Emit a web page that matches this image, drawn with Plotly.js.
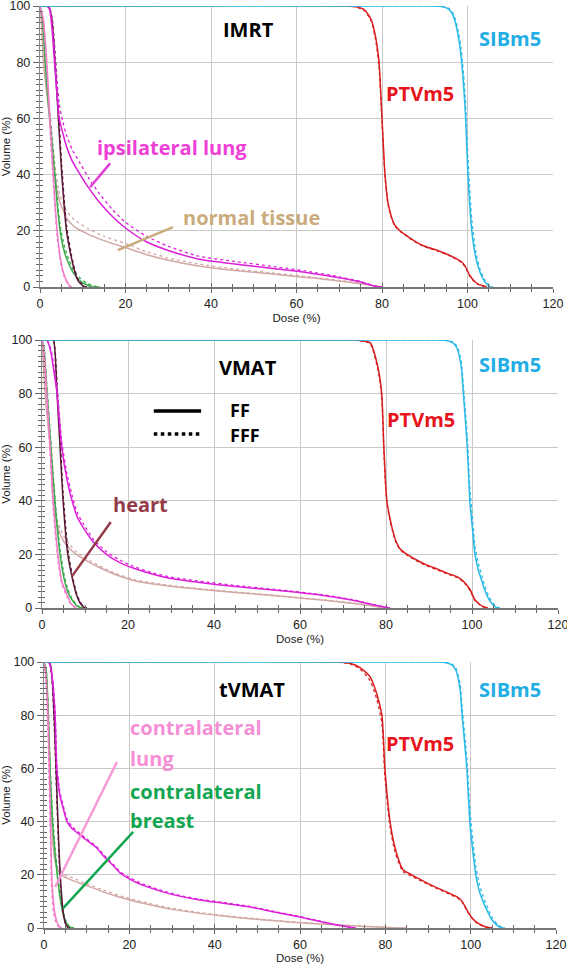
<!DOCTYPE html>
<html><head><meta charset="utf-8">
<script src="https://cdn.plot.ly/plotly-3.0.1.min.js"></script>
<style>html,body{margin:0;padding:0;background:#fff}#chart{width:567px;height:964px}</style>
</head><body><div id="chart"></div>
<script>
// ---------- DATA (Dose %, Volume %) ----------
// Panel 1: IMRT
const imrt_sib_dose = [0,92,94,95.5,96.5,97.5,98.5,99.5,100.1,101,102,103,104,105.3,106];
const imrt_sib_ff   = [100,100,99.8,99,97,92,82,62,40,20,10,5,2,0,0];
const imrt_sib_fff  = [100,100,99.9,99.3,97.8,93.5,85,67,46,24,12,6,2.6,0.4,0];
const imrt_ptv_dose = [0,72,74,76,77.5,78.5,79.3,80,80.7,81.4,82.2,83,84.2,86,88,90,93,95.5,97.5,98.6,99.4,100.6,101.5,102.5,104.5];
const imrt_ptv_ff   = [100,100,99.7,98.5,95,89,80,60,40,30,25,22,20,18,16,14.5,13,11.5,10,9,7.5,4,2.2,1,0];
const imrt_ptv_fff  = [100,100,99.6,98.2,94.5,88,78.5,59,39.5,29.5,24.6,21.7,19.8,17.8,15.8,14.3,12.8,11.3,9.8,8.7,7.2,3.7,2,0.9,0];
const imrt_lung_dose = [0,1.5,2.2,2.8,3.3,4,4.5,5.3,6.2,7.5,9.4,11.5,14,17,20,25,30,37,45,55,63,70,75,78,80];
const imrt_lung_ff   = [100,100,99,92,82,68,60,55,50,45,40,35,30,25,21,16,13,10,8.3,6.5,5,3.3,1.8,0.4,0];
const imrt_lung_fff  = [100,100,99.5,95,86,73,65,59,54,49,44,38.5,33,27.5,23,18,14.5,11,9.2,7.2,5.5,3.6,2,0.5,0];
const imrt_nt_dose = [0,0.3,0.8,1.5,2.3,3,3.5,4.2,4.7,5.5,6.2,8,11,15,20,25,30,37,45,55,65,72,78,80];
const imrt_nt_ff   = [100,95,80,70,60,48,40,33,30,27,24.5,21.5,19,16.5,14,11.5,9.5,7.5,6,4.5,3,1.8,0.5,0];
const imrt_nt_fff  = [100,96,83,73,63,51,43,36,32.5,29.5,27,24,21,18,15.5,12.5,10.3,8.2,6.5,4.9,3.3,2,0.6,0];
const imrt_heart_dose = [0,2,2.8,3.5,4.3,5.1,6.2,7.4,8.2,9,10,10.5,11];
const imrt_heart_ff   = [100,100,95,80,60,40,20,10,5,2,0.5,0,0];
const imrt_heart_fff  = [100,100,96,84,64,43,22,11,5.8,2.5,0.7,0.1,0];
const imrt_clung_dose = [0,0.8,1.6,2.3,3.1,4,4.8,5.5,6.3,7,7.5];
const imrt_clung_ff   = [100,95,80,60,40,20,10,5,2,0.3,0];
const imrt_clung_fff  = [100,94,78,57,37,18,9,4.3,1.5,0.2,0];
const imrt_breast_dose = [0,0.6,1.2,2,3,4,4.7,5.8,6.8,7.8,9.5,11,12.5,14];
const imrt_breast_ff   = [100,95,80,64,48,30,20,12,8,5,2,0.7,0,0];
const imrt_breast_fff  = [100,96,82,66,50,32,22,14,9.5,6,3,1.3,0.4,0];

// Panel 2: VMAT
const vmat_sib_dose = [0,92,94,95.5,96.5,97.5,98,98.9,99.5,100.2,100.7,101.5,102.3,103,104,105,106,106.5];
const vmat_sib_ff   = [100,100,99.8,99,97,90,80,60,40,28,20,14,10,6.5,3,1,0,0];
const vmat_sib_fff  = [100,100,99.9,99.3,97.8,92,83,64,45,32,23,16.5,12,8,4,1.5,0.3,0];
const vmat_ptv_dose = [0,72,74,76.3,78.1,79,79.5,80.2,81.4,82.3,83.3,84.9,87,89.5,92,94.2,96.5,98,99.5,100.7,101.7,102.6,103.7];
const vmat_ptv_ff   = [100,100,99.8,99,90,80,60,40,30,25,22,20,18,16,14.5,13,11.7,10,7,3,1.5,0.5,0];
const vmat_ptv_fff  = [100,100,99.7,98.7,89,79,59,39,29.5,24.5,21.7,19.7,17.7,15.7,14.2,12.7,11.4,9.7,6.7,2.8,1.3,0.4,0];
const vmat_lung_dose = [0,1.1,2,2.8,3.5,4.6,5.8,7,8.2,9.6,12,15,18,21,26,30,36.7,45,55,65,72,77,80,81];
const vmat_lung_ff   = [100,100,96,88,80,60,48,40,34,30,24.5,20,17,15,12.5,11,9.5,8,6.5,4.8,3,1.2,0.2,0];
const vmat_lung_fff  = [100,100,97,90,82,62,50,42,35.5,31.5,25.5,21,18,15.7,13,11.5,10,8.4,6.8,5,3.2,1.3,0.3,0];
const vmat_nt_dose = [0,0.3,0.7,1.3,1.9,2.6,3.7,5,6.5,8,10.5,13.5,17,22,28,36.7,45,55,65,72,78,80];
const vmat_nt_ff   = [100,92,80,70,60,40,30,25,22,20,17.5,15,12.5,10,8.5,7,5.8,4.5,3,1.8,0.5,0];
const vmat_nt_fff  = [100,93,82,72,62,42,32,27,23.5,21,18.3,15.6,13,10.4,8.8,7.2,6,4.6,3.1,1.9,0.5,0];
const vmat_heart_dose = [0,2.6,3,3.5,4.2,4.9,6,7.2,8,8.8,9.5,10,10.5];
const vmat_heart_ff   = [100,100,96,80,60,40,20,10,5,2,0.6,0,0];
const vmat_heart_fff  = [100,100,97,84,64,43,22,11,5.8,2.5,0.8,0.1,0];
const vmat_clung_dose = [0,0.5,1.1,1.9,2.6,3.7,4.6,5.8,6.8,8];
const vmat_clung_ff   = [100,95,80,60,40,20,10,5,1.5,0];
const vmat_clung_fff  = [100,94,78,57,37,18,9,4.3,1.2,0];
const vmat_breast_dose = [0,0.5,1.1,1.9,2.6,3.4,4.2,5,6,7.2,8.3,9.5];
const vmat_breast_ff   = [100,96,82,64,48,32,20,12,6,2.5,0.6,0];
const vmat_breast_fff  = [100,97,84,66,50,34,22,13.5,7,3,0.8,0];

// Panel 3: tVMAT
const tvmat_sib_dose = [0,92,94,95.5,96.5,97.5,98,99.1,99.8,100.5,101.2,102,102.9,104,105,106.2,107.3,108];
const tvmat_sib_ff   = [100,100,99.8,99,97,90,80,60,40,29,20,14,10,6,3,1,0,0];
const tvmat_sib_fff  = [100,100,99.9,99.3,97.8,92,83,64,45,33,23.5,16.5,12,7.5,4,1.5,0.3,0];
const tvmat_ptv_dose = [0,68,71.7,74,76.4,78,79.2,79.9,81.1,82.3,84.1,86.2,88.5,90.9,93,95.1,97,98,99.4,100.5,101.5,103.4,105];
const tvmat_ptv_ff   = [100,100,99.5,98,94.5,88,80,60,40,30,22,20,18,16,14.5,13,11.5,10,6,3.5,2,0.5,0];
const tvmat_ptv_fff  = [100,100,99.3,97.5,93,86,77,57,38,28.5,21.3,19.5,17.6,15.7,14.2,12.7,11.2,9.7,5.7,3.3,1.8,0.4,0];
const tvmat_lung_dose = [0,1,1.4,2,2.6,3,3.7,4.5,5.4,6.5,8.4,10,12.4,14,16.2,18,20,22.5,25.5,28.7,32.6,36.5,42,48.3,54,60,64,68.7,71.7,73];
const tvmat_lung_ff   = [100,100,99,93,80,60,50,45,40,37.5,35,33,30,27,23.5,20.5,18.5,16.5,14.8,13.2,11.7,10.5,9.3,7.9,6,4.1,2.7,1.1,0.3,0];
const tvmat_lung_fff  = [100,100,99.3,94,82,62,51.5,46,41,38.3,35.6,33.5,30.5,27.5,24,21,19,17,15.2,13.6,12,10.8,9.6,8.1,6.2,4.3,2.8,1.2,0.3,0];
const tvmat_nt_dose = [0,0.5,1,1.4,1.8,2.2,2.6,3.2,4.5,6.5,9,11.6,14,18,24,30,36.5,42,48.3,55,60,67,75,82,85];
const tvmat_nt_ff   = [100,95,80,60,40,30,25,22,19.5,18,16.5,15,13.5,11.5,9,7,5.5,4.5,3.5,2.6,2,1.3,0.6,0.1,0];
const tvmat_nt_fff  = [100,95,82,62,42,32,26.5,23,20.5,19,17.3,15.7,14.2,12,9.5,7.4,5.8,4.7,3.7,2.7,2.1,1.4,0.7,0.1,0];
const tvmat_heart_dose = [0,1,1.5,2,2.5,3,3.5,4,4.5,5,5.5,6];
const tvmat_heart_ff   = [100,100,99,92,75,52,30,15,6,2,0.5,0];
const tvmat_heart_fff  = [100,100,98.5,90,72,49,28,13.5,5.3,1.7,0.4,0];
const tvmat_clung_dose = [0,0.4,0.8,1.1,1.4,1.8,2.2,2.6,3.1,3.7,4.2];
const tvmat_clung_ff   = [100,96,85,70,50,20,10,5,2,0.4,0];
const tvmat_clung_fff  = [100,94,80,62,40,14,6,3,1,0.2,0];
const tvmat_breast_dose = [0,0.5,1,1.4,2,2.6,3.1,3.8,4.5,5.2,6,7];
const tvmat_breast_ff   = [100,97,80,60,40,28,20,11,5,2,0.4,0];
const tvmat_breast_fff  = [100,97,82,62,43,30,22,12.5,6,2.5,0.6,0];

const xTickVals = [0,20,40,60,80,100,120];
const yTickVals = [0,20,40,60,80,100];
const panelNames = ['IMRT','VMAT','tVMAT'];

// ---------- STYLE ----------
const COL = {sib:'#2BB9E6', ptv:'#D81F20', lung:'#DC1FD8', nt:'#D2A8A6', heart:'#5A1636', clung:'#F27BC8', breast:'#3AAA4A'};
const panels = [
  {p:'imrt', ax:'', px:[40,553], py:[6,287]},
  {p:'vmat', ax:'2', px:[42,558], py:[340,608]},
  {p:'tvmat', ax:'3', px:[44,556], py:[662,928]}
];
const W=567, H=964;
const src = {
  imrt:{sib:[imrt_sib_dose,imrt_sib_ff,imrt_sib_fff],ptv:[imrt_ptv_dose,imrt_ptv_ff,imrt_ptv_fff],lung:[imrt_lung_dose,imrt_lung_ff,imrt_lung_fff],nt:[imrt_nt_dose,imrt_nt_ff,imrt_nt_fff],heart:[imrt_heart_dose,imrt_heart_ff,imrt_heart_fff],clung:[imrt_clung_dose,imrt_clung_ff,imrt_clung_fff],breast:[imrt_breast_dose,imrt_breast_ff,imrt_breast_fff]},
  vmat:{sib:[vmat_sib_dose,vmat_sib_ff,vmat_sib_fff],ptv:[vmat_ptv_dose,vmat_ptv_ff,vmat_ptv_fff],lung:[vmat_lung_dose,vmat_lung_ff,vmat_lung_fff],nt:[vmat_nt_dose,vmat_nt_ff,vmat_nt_fff],heart:[vmat_heart_dose,vmat_heart_ff,vmat_heart_fff],clung:[vmat_clung_dose,vmat_clung_ff,vmat_clung_fff],breast:[vmat_breast_dose,vmat_breast_ff,vmat_breast_fff]},
  tvmat:{sib:[tvmat_sib_dose,tvmat_sib_ff,tvmat_sib_fff],ptv:[tvmat_ptv_dose,tvmat_ptv_ff,tvmat_ptv_fff],lung:[tvmat_lung_dose,tvmat_lung_ff,tvmat_lung_fff],nt:[tvmat_nt_dose,tvmat_nt_ff,tvmat_nt_fff],heart:[tvmat_heart_dose,tvmat_heart_ff,tvmat_heart_fff],clung:[tvmat_clung_dose,tvmat_clung_ff,tvmat_clung_fff],breast:[tvmat_breast_dose,tvmat_breast_ff,tvmat_breast_fff]}
};
const order = ['nt','breast','clung','heart','lung','ptv','sib'];

const traces = [];
const layout = {
  width:W, height:H, margin:{l:0,r:0,t:0,b:0}, showlegend:false,
  paper_bgcolor:'#ffffff', plot_bgcolor:'#ffffff',
  font:{family:'Liberation Sans, Arial, sans-serif', size:12, color:'#222'},
  annotations:[], shapes:[]
};
const tickFont = {family:'Liberation Sans, Arial, sans-serif', size:12.5, color:'#222'};
const GRID = '#c9c9c9';

panels.forEach((pn,i)=>{
  const xa='x'+pn.ax, ya='y'+pn.ax;
  order.forEach(k=>{
    const [d,ff,fff]=src[pn.p][k];
    traces.push({type:'scatter',mode:'lines',x:d,y:fff,xaxis:xa,yaxis:ya,line:{color:COL[k],width:1.3,dash:'dot',shape:'spline',smoothing:0.6},hoverinfo:'skip'});
    traces.push({type:'scatter',mode:'lines',x:d,y:ff,xaxis:xa,yaxis:ya,line:{color:COL[k],width:1.5,shape:'spline',smoothing:0.6},hoverinfo:'skip'});
  });
  const xd=[pn.px[0]/W, pn.px[1]/W];
  const yd=[1-pn.py[1]/H, 1-pn.py[0]/H];
  layout['xaxis'+pn.ax] = {domain:xd, anchor:ya, range:[0,120], tickmode:'array', tickvals:xTickVals, ticktext:xTickVals.map(String),
    showgrid:true, gridcolor:GRID, gridwidth:1, zeroline:false, showline:true, linecolor:'#777', linewidth:1.5,
    ticks:'outside', ticklen:4, tickcolor:'#666', tickwidth:1, tickfont:tickFont, automargin:false, ticklabeloverflow:'allow',
    minor:{dtick:5, tick0:0, ticks:'outside', ticklen:3, tickcolor:'#666', showgrid:false},
    title:{text:'Dose (%)', font:{size:11.5, color:'#222'}, standoff:4}};
  layout['yaxis'+pn.ax] = {domain:yd, anchor:xa, range:[0,100], tickmode:'array', tickvals:yTickVals, ticktext:yTickVals.map(String),
    showgrid:true, gridcolor:GRID, gridwidth:1, zeroline:false, showline:true, linecolor:'#888', linewidth:1.2,
    ticks:'outside', ticklen:6, tickcolor:'#666', tickwidth:1, tickfont:tickFont, automargin:false, ticklabeloverflow:'allow',
    minor:{dtick:2, tick0:0, ticks:'outside', ticklen:3, tickcolor:'#666', showgrid:false},
    title:{text:'Volume (%)', font:{size:11.5, color:'#222'}, standoff:4}};
  const ox='x'+(i+4), oy='y'+(i+4);
  layout['xaxis'+(i+4)] = {overlaying:xa, anchor:oy, range:[0,120], tickmode:'array', tickvals:xTickVals, showticklabels:false,
    showgrid:false, zeroline:false, showline:false, ticks:'inside', ticklen:4, tickcolor:'#666', tickwidth:1,
    minor:{dtick:5, tick0:0, ticks:'inside', ticklen:3, tickcolor:'#666', showgrid:false}};
  layout['yaxis'+(i+4)] = {overlaying:ya, anchor:ox, range:[0,100], tickmode:'array', tickvals:yTickVals, showticklabels:false,
    showgrid:false, zeroline:false, showline:false, ticks:'inside', ticklen:2, tickcolor:'#666', tickwidth:1,
    minor:{dtick:2, tick0:0, ticks:'inside', ticklen:3, tickcolor:'#666', showgrid:false}};
  traces.push({type:'scatter',mode:'lines',x:[null],y:[null],xaxis:ox,yaxis:oy,hoverinfo:'skip'});
});

function label(text,x,y,ax,color,anchor,size){
  layout.annotations.push({text:'<b>'+text+'</b>', x:x, y:y, xref:'x'+ax, yref:'y'+ax, showarrow:false,
    xanchor:anchor||'center', yanchor:'middle', font:{family:'Open Sans, sans-serif', size:size||20, color:color}});
}
function pointer(x0,y0,x1,y1,ax,color){
  layout.shapes.push({type:'line', xref:'x'+ax, yref:'y'+ax, x0:x0,y0:y0,x1:x1,y1:y1, line:{color:color,width:2.5}});
}
// Panel 1
label(panelNames[0],48.7,91.5,'','#000');
label('PTVm5',88.9,68.8,'','#E8141C');
label('SIBm5',110,88.3,'','#22AEE4');
label('ipsilateral lung',30.9,49.6,'','#EE40D6');
label('normal tissue',49.4,24.8,'','#C9AB7C');
pointer(16.4,44,11.7,35.5,'','#E23DD6');
pointer(31.1,21.3,18.2,13.1,'','#C9AB7C');
// Panel 2
label(panelNames[1],47.9,89.6,'2','#000');
label('PTVm5',88.1,70.5,'2','#E8141C');
label('SIBm5',108.8,91,'2','#22AEE4');
label('heart',22.8,38.8,'2','#953A47');
pointer(16,32.1,7,11.9,'2','#953A47');
layout.shapes.push({type:'line',xref:'x2',yref:'y2',x0:26,x1:37,y0:73.5,y1:73.5,line:{color:'#000',width:3.5}});
layout.shapes.push({type:'line',xref:'x2',yref:'y2',x0:26,x1:37,y0:64.9,y1:64.9,line:{color:'#000',width:3.5,dash:'dot'}});
label('FF',43.3,74,'2','#000','left',18);
label('FFF',43.3,64.5,'2','#000','left',18);
// Panel 3
label(panelNames[2],48.7,89.8,'3','#000');
label('PTVm5',88.1,69.2,'3','#E8141C');
label('SIBm5',109.2,89.5,'3','#22AEE4');
label('contralateral',19.7,75.2,'3','#F48FD6','left');
label('lung',19.7,63.9,'3','#F48FD6','left');
label('contralateral',19.7,51.5,'3','#13A651','left');
label('breast',19.7,40.6,'3','#13A651','left');
pointer(17.1,62.4,2.6,15.4,'3','#F59AD8');
pointer(20.9,36.1,4.5,7.5,'3','#13A651');

Plotly.newPlot('chart',traces,layout,{staticPlot:true,displayModeBar:false});
</script></body></html>
